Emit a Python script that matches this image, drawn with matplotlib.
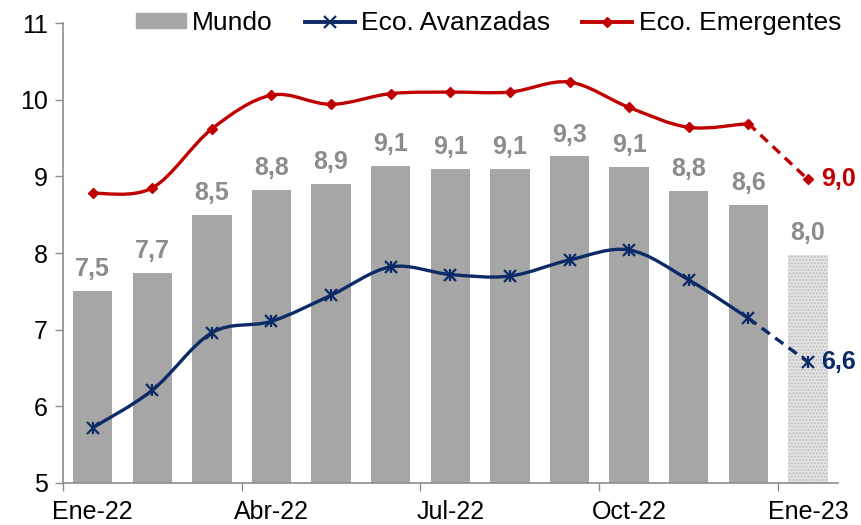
import matplotlib.pyplot as plt
import numpy as np
from matplotlib.path import Path
from matplotlib.patches import PathPatch, Patch
from matplotlib.lines import Line2D

plt.rcParams['font.family'] = ['Liberation Sans', 'DejaVu Sans']

meses = ['Ene-22', 'Feb-22', 'Mar-22', 'Abr-22', 'May-22', 'Jun-22', 'Jul-22',
         'Ago-22', 'Sep-22', 'Oct-22', 'Nov-22', 'Dic-22', 'Ene-23']
mundo = [7.5, 7.74, 8.5, 8.82, 8.9, 9.14, 9.1, 9.1, 9.26, 9.12, 8.81, 8.63, 7.98]
avanzadas = [5.72, 6.21, 6.96, 7.11, 7.45, 7.82, 7.72, 7.70, 7.91, 8.04, 7.65, 7.15, 6.58]
emergentes = [8.78, 8.85, 9.62, 10.06, 9.94, 10.08, 10.10, 10.10, 10.23, 9.90, 9.64, 9.69, 8.96]

gris = '#A6A6A6'
azul = '#0B2A66'
rojo = '#C00000'


def curva(x, y):
    # curva suavizada tipo Excel (Catmull-Rom -> Bezier)
    verts = [(x[0], y[0])]
    codes = [Path.MOVETO]
    n = len(x)
    for i in range(n - 1):
        x0, y0 = (x[i - 1], y[i - 1]) if i > 0 else (x[i], y[i])
        x3, y3 = (x[i + 2], y[i + 2]) if i + 2 < n else (x[i + 1], y[i + 1])
        c1 = (x[i] + (x[i + 1] - x0) / 6, y[i] + (y[i + 1] - y0) / 6)
        c2 = (x[i + 1] - (x3 - x[i]) / 6, y[i + 1] - (y3 - y[i]) / 6)
        verts += [c1, c2, (x[i + 1], y[i + 1])]
        codes += [Path.CURVE4] * 3
    return Path(verts, codes)


x = np.arange(len(meses))
fig, ax = plt.subplots(figsize=(8.61, 5.25), dpi=100)
fig.subplots_adjust(left=0.073, right=0.973, top=0.956, bottom=0.08)

ax.bar(x[:-1], mundo[:-1], width=0.66, color=gris, zorder=1)
ax.bar(x[-1], mundo[-1], width=0.66, color='#E4E4E4', hatch='.....',
       edgecolor='#BDBDBD', linewidth=0, zorder=1)

for xi, yi in zip(x, mundo):
    ax.text(xi, yi + 0.13, f"{yi:.1f}".replace('.', ','), ha='center', va='bottom',
            fontsize=18, fontweight='bold', color='#8C8C8C')

# líneas suavizadas
for serie, color in [(avanzadas, azul), (emergentes, rojo)]:
    ax.add_patch(PathPatch(curva(x[:-1], serie[:-1]), fill=False, edgecolor=color,
                           linewidth=2.4, zorder=3))
    ax.plot(x[-2:], serie[-2:], color=color, linewidth=2.4, linestyle=(0, (3, 2)), zorder=3)

ax.plot(x, avanzadas, linestyle='none', marker='x', markersize=8, markeredgewidth=1.6,
        color=azul, zorder=4)
ax.plot(x, avanzadas, linestyle='none', marker='|', markersize=9, markeredgewidth=1.6,
        color=azul, zorder=4)
ax.plot(x, emergentes, linestyle='none', marker='D', markersize=5.5, color=rojo, zorder=4)

ax.text(x[-1] + 0.22, avanzadas[-1], f"{avanzadas[-1]:.1f}".replace('.', ','),
        ha='left', va='center', fontsize=18, fontweight='bold', color=azul)
ax.text(x[-1] + 0.22, emergentes[-1], f"{emergentes[-1]:.1f}".replace('.', ','),
        ha='left', va='center', fontsize=18, fontweight='bold', color=rojo)

ax.set_xlim(-0.5, len(meses) - 0.5)
ax.set_ylim(5, 11)
ax.set_yticks(range(5, 12))
ax.set_xticks(x[::3] - 0.5)
ax.set_xticklabels([])
ax.set_xticks(x[::3], [meses[i] for i in x[::3]], minor=True)
ax.tick_params(axis='x', which='minor', length=0, labelsize=18, pad=12)
ax.tick_params(axis='x', which='major', length=6, color='#8C8C8C', width=1)
ax.tick_params(axis='y', length=6, color='#8C8C8C', width=1, labelsize=18, pad=5)

for s in ['top', 'right']:
    ax.spines[s].set_visible(False)
for s in ['left', 'bottom']:
    ax.spines[s].set_color('#8C8C8C')
    ax.spines[s].set_linewidth(1.2)

handles = [Patch(color=gris, label='Mundo'),
           Line2D([], [], color=azul, linewidth=2.8, marker='x', markersize=8,
                  markeredgewidth=1.6, label='Eco. Avanzadas'),
           Line2D([], [], color=rojo, linewidth=2.8, marker='D', markersize=5.5,
                  label='Eco. Emergentes')]
ax.legend(handles=handles, loc='upper right', bbox_to_anchor=(1.025, 1.06), ncol=3,
          frameon=False, fontsize=19, handlelength=1.9, handleheight=0.5,
          handletextpad=0.25, columnspacing=1.2, borderaxespad=0.2)

plt.savefig('out.png', dpi=100)
